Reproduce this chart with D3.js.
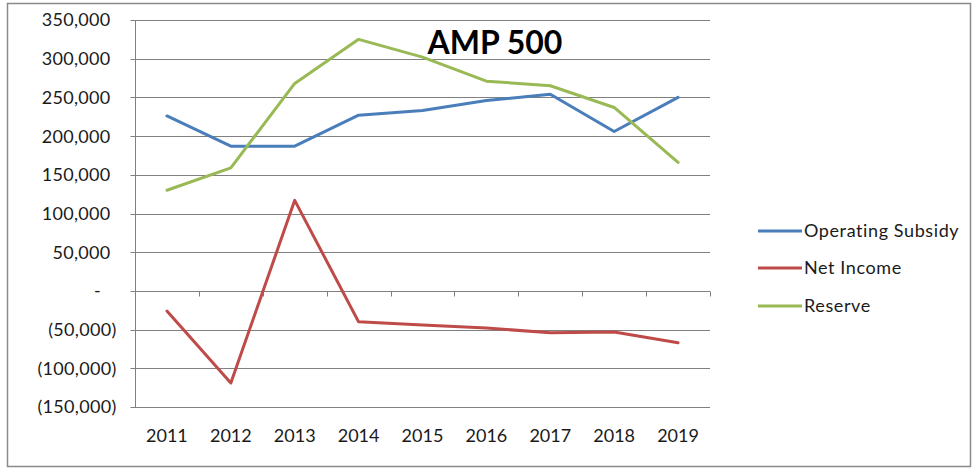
<!DOCTYPE html>
<html>
<head>
<meta charset="utf-8">
<script src="https://cdn.jsdelivr.net/npm/d3@7"></script>
<style>
  html, body { margin: 0; padding: 0; background: #fff; }
  svg { display: block; font-family: Lato, "Open Sans", "Liberation Sans", sans-serif; }
</style>
</head>
<body>
<svg id="chart" width="973" height="470"></svg>
<script>
const years = ["2011", "2012", "2013", "2014", "2015", "2016", "2017", "2018", "2019"];
const operatingSubsidy = [226000, 187000, 187000, 227000, 233000, 246000, 254000, 206000, 250000];
const netIncome = [-26000, -119000, 117000, -40000, -44000, -48000, -54000, -53000, -67000];
const reserve = [130000, 159000, 268000, 325000, 302000, 271000, 265000, 237000, 166000];
const seriesNames = ["Operating Subsidy", "Net Income", "Reserve"];
const seriesColors = ["#4A7EBB", "#BE4B48", "#98B954"];
const yTicks = [350000, 300000, 250000, 200000, 150000, 100000, 50000, 0, -50000, -100000, -150000];
const title = "AMP 500";

const series = [operatingSubsidy, netIncome, reserve];

const svg = d3.select("#chart");
const plot = { left: 135, right: 710, top: 20, bottom: 407 };

// Outer chart frame
svg.append("rect")
  .attr("x", 7.5).attr("y", 3.5)
  .attr("width", 963).attr("height", 463)
  .attr("fill", "#fff").attr("stroke", "#8a8a8a").attr("stroke-width", 1.5);

const x = d3.scaleBand().domain(years).range([plot.left, plot.right]).padding(0);
const y = d3.scaleLinear().domain([-150000, 350000]).range([plot.bottom, plot.top]);

// Horizontal gridlines
svg.append("g")
  .selectAll("line")
  .data(yTicks)
  .join("line")
  .attr("x1", plot.left).attr("x2", plot.right)
  .attr("y1", d => Math.round(y(d)) + 0.5).attr("y2", d => Math.round(y(d)) + 0.5)
  .attr("stroke", "#808080").attr("stroke-width", 1);

// Y axis line and tick marks
const yAxisG = svg.append("g").attr("transform", `translate(${plot.left + 0.5},0)`);
yAxisG.append("line")
  .attr("x1", 0).attr("x2", 0)
  .attr("y1", y(350000)).attr("y2", y(-150000))
  .attr("stroke", "#808080");
yAxisG.selectAll("line.tick")
  .data(yTicks)
  .join("line")
  .attr("class", "tick")
  .attr("x1", -5).attr("x2", 0)
  .attr("y1", d => Math.round(y(d)) + 0.5).attr("y2", d => Math.round(y(d)) + 0.5)
  .attr("stroke", "#808080");

// Accounting-style tick labels
const fmt = d3.format(",");
yAxisG.selectAll("text")
  .data(yTicks)
  .join("text")
  .attr("x", d => d < 0 ? -19 : (d === 0 ? -38 : -25))
  .attr("y", d => y(d))
  .attr("dy", "0.36em")
  .attr("text-anchor", d => d === 0 ? "middle" : "end")
  .attr("font-size", 18)
  .attr("letter-spacing", 0.3)
  .attr("fill", "#1a1a1a")
  .text(d => d === 0 ? "-" : d < 0 ? `(${fmt(-d)})` : fmt(d));

// Category axis along zero, tick marks at category boundaries
const xAxisG = svg.append("g").attr("transform", `translate(0,${Math.round(y(0)) + 0.5})`);
const boundaries = years.map(d => x(d)).concat([x(years[years.length - 1]) + x.bandwidth()]);
xAxisG.selectAll("line")
  .data(boundaries)
  .join("line")
  .attr("x1", d => Math.round(d) + 0.5).attr("x2", d => Math.round(d) + 0.5)
  .attr("y1", 0).attr("y2", 5)
  .attr("stroke", "#808080");

// Year labels below the plot
svg.append("g")
  .selectAll("text")
  .data(years)
  .join("text")
  .attr("x", d => x(d) + x.bandwidth() / 2)
  .attr("y", 442)
  .attr("text-anchor", "middle")
  .attr("font-size", 18)
  .attr("fill", "#1a1a1a")
  .text(d => d);

// Series lines
const line = d3.line()
  .x((d, i) => x(years[i]) + x.bandwidth() / 2)
  .y(d => y(d));

svg.append("g")
  .selectAll("path")
  .data(series)
  .join("path")
  .attr("d", d => line(d))
  .attr("fill", "none")
  .attr("stroke", (d, i) => seriesColors[i])
  .attr("stroke-width", 3)
  .attr("stroke-linejoin", "round")
  .attr("stroke-linecap", "round");

// Title
svg.append("text")
  .attr("x", 495).attr("y", 54)
  .attr("text-anchor", "middle")
  .attr("font-size", 32)
  .attr("font-weight", "bold")
  .attr("fill", "#000")
  .text(title);

// Legend
const legendRows = [231, 268, 306];
const legend = svg.append("g")
  .selectAll("g")
  .data(seriesNames)
  .join("g")
  .attr("transform", (d, i) => `translate(758,${legendRows[i]})`);
legend.append("line")
  .attr("x1", 0).attr("x2", 44)
  .attr("y1", 0).attr("y2", 0)
  .attr("stroke", (d, i) => seriesColors[i])
  .attr("stroke-width", 3);
legend.append("text")
  .attr("x", 46).attr("y", 0)
  .attr("dy", "0.36em")
  .attr("font-size", 18)
  .attr("letter-spacing", 0.6)
  .attr("fill", "#1a1a1a")
  .text(d => d);
</script>
</body>
</html>
